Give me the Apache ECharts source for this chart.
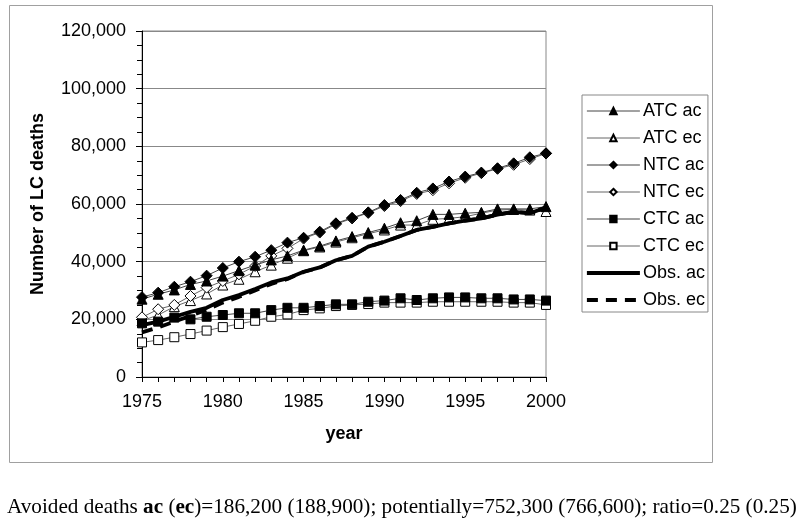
<!DOCTYPE html>
<html>
<head>
<meta charset="utf-8">
<script src="https://cdn.jsdelivr.net/npm/echarts@6/dist/echarts.min.js"></script>
<style>html,body{margin:0;padding:0;background:#fff;}#c{width:800px;height:522px;}</style>
</head>
<body>
<div id="c"></div>
<script>
const years = [1975,1976,1977,1978,1979,1980,1981,1982,1983,1984,1985,1986,1987,1988,1989,1990,1991,1992,1993,1994,1995,1996,1997,1998,1999,2000];
const yTicks = [0,20000,40000,60000,80000,100000,120000];
const atcAc = [27000,28700,30200,32100,33300,35000,36900,38800,40600,42000,44000,45400,47200,48700,50100,51600,53500,54200,56400,56400,56800,57100,58300,58300,58300,59100];
const atcEc = [19500,21500,24400,26500,28800,31900,33900,36500,38800,41200,43800,45100,46800,48300,49700,51000,52700,52700,54700,55000,55600,56800,57900,58100,57900,57400];
const ntcAc = [27700,29250,31300,33050,35150,37800,40000,41700,44000,46600,48300,50400,53300,55200,57100,59650,61400,63900,65400,67800,69500,70900,72400,74100,76200,77600];
const ntcEc = [20700,23500,25000,28100,31000,33300,35600,38500,42000,44600,48000,50100,53000,55000,56900,59300,61000,63500,64800,67200,69100,70700,72200,73600,75600,77500];
const ctcAc = [18600,19200,20600,20000,20900,21500,22100,22100,23200,24000,24000,24600,25200,25200,26100,26500,27300,26700,27300,27600,27600,27300,27300,26900,26900,26500];
const ctcEc = [12000,12800,13800,14900,16100,17300,18400,19500,20900,21700,23200,23800,24600,25000,25300,25800,25800,25800,26100,26100,26100,26100,26100,25800,25800,25000];
const obsAc = [18000,19200,20900,22600,24000,26700,28400,30500,32800,34200,36500,38000,40500,42000,45200,46900,48900,51000,52100,53300,54200,55000,56300,57300,56800,58800];
const obsEc = [15500,17200,19200,21200,23300,25800,27800,30000,32300,34000,36400,38000,40500,42000,45200,46900,48900,51000,52100,53300,54200,55000,56300,57300,56800,58800];

const FONT = 'Liberation Sans, Arial, sans-serif';
function mk(name, data, symbol, size, filled) {
  return {
    name, type: 'line', data, symbol, symbolSize: size, showAllSymbol: true, z: filled ? 4 : 3,
    lineStyle: { color: filled ? '#444' : '#666', width: 1 },
    itemStyle: filled ? { color: '#000', borderColor: '#000', borderWidth: 1 } : { color: '#fff', borderColor: '#000', borderWidth: 1 },
    emphasis: { disabled: true }, animation: false
  };
}
const series = [
  mk('ATC ac', atcAc, 'triangle', 10, true),
  mk('ATC ec', atcEc, 'triangle', 10, false),
  mk('NTC ac', ntcAc, 'diamond', 11, true),
  mk('NTC ec', ntcEc, 'diamond', 11, false),
  mk('CTC ac', ctcAc, 'rect', 9, true),
  mk('CTC ec', ctcEc, 'rect', 9, false),
  { name: 'Obs. ac', type: 'line', data: obsAc, symbol: 'circle', showSymbol: false, z: 5,
    lineStyle: { color: '#000', width: 3.8 }, itemStyle: { color: '#000' }, emphasis: { disabled: true }, animation: false },
  { name: 'Obs. ec', type: 'line', data: obsEc, symbol: 'circle', showSymbol: false, z: 5,
    lineStyle: { color: '#000', width: 3.8, type: [11, 8] }, itemStyle: { color: '#000' }, emphasis: { disabled: true }, animation: false }
];

const chart = echarts.init(document.getElementById('c'), null, { renderer: 'canvas' });
chart.setOption({
  backgroundColor: '#fff',
  animation: false,
  grid: { left: 142, top: 31, width: 404, height: 346, show: true, borderColor: '#888', borderWidth: 1, backgroundColor: 'transparent' },
  xAxis: {
    type: 'category', data: years, boundaryGap: false,
    axisLine: { lineStyle: { color: '#000', width: 1 } },
    axisTick: { show: true, interval: 0, length: 5, lineStyle: { color: '#000' } },
    axisLabel: { interval: 4, margin: 16, color: '#000', fontFamily: FONT, fontSize: 18 },
    splitLine: { show: false },
    name: 'year', nameLocation: 'middle', nameGap: 48,
    nameTextStyle: { fontFamily: FONT, fontSize: 18, fontWeight: 'bold', color: '#000' }
  },
  yAxis: {
    type: 'value', min: yTicks[0], max: yTicks[yTicks.length - 1], interval: 20000,
    axisLine: { show: true, lineStyle: { color: '#000', width: 1 } },
    axisTick: { show: true, length: 6, lineStyle: { color: '#000' } },
    minorTick: { show: true, splitNumber: 4, length: 5, lineStyle: { color: '#000' } },
    axisLabel: { margin: 16, color: '#000', fontFamily: FONT, fontSize: 18,
      formatter: v => String(v).replace(/\B(?=(\d{3})+(?!\d))/g, ',') },
    splitLine: { show: true, lineStyle: { color: '#888', width: 1 } },
    name: 'Number of LC deaths', nameLocation: 'middle', nameGap: 95,
    nameTextStyle: { fontFamily: FONT, fontSize: 18, fontWeight: 'bold', color: '#000' }
  },
  legend: {
    orient: 'vertical', left: 582, top: 95,
    padding: [7, 3, 3, 3], itemGap: 9, itemWidth: 53, itemHeight: 8,
    borderColor: '#888', borderWidth: 1, backgroundColor: '#fff',
    textStyle: { fontFamily: FONT, fontSize: 18, color: '#000', padding: [0, 0, 0, -2] },
    lineStyle: { width: 'inherit' },
    data: ['ATC ac', 'ATC ec', 'NTC ac', 'NTC ec', 'CTC ac', 'CTC ec',
      { name: 'Obs. ac', itemStyle: { opacity: 0 } }, { name: 'Obs. ec', itemStyle: { opacity: 0 } }],
    selectedMode: false
  },
  graphic: [
    { type: 'rect', z: -1, shape: { x: 9.5, y: 5.5, width: 703, height: 457 }, style: { fill: 'none', stroke: '#a0a0a0', lineWidth: 1 }, silent: true },
    { type: 'text', left: 7, top: 497, silent: true,
      style: {
        text: '{n|Avoided deaths }{b|ac}{n| (}{b|ec}{n|)=186,200 (188,900); potentially=752,300 (766,600); ratio=0.25 (0.25)}',
        rich: {
          n: { fontFamily: 'Liberation Serif, Times New Roman, serif', fontSize: 21.2, fill: '#000' },
          b: { fontFamily: 'Liberation Serif, Times New Roman, serif', fontSize: 21.2, fontWeight: 'bold', fill: '#000' }
        }
      } }
  ],
  series
});
</script>
</body>
</html>
